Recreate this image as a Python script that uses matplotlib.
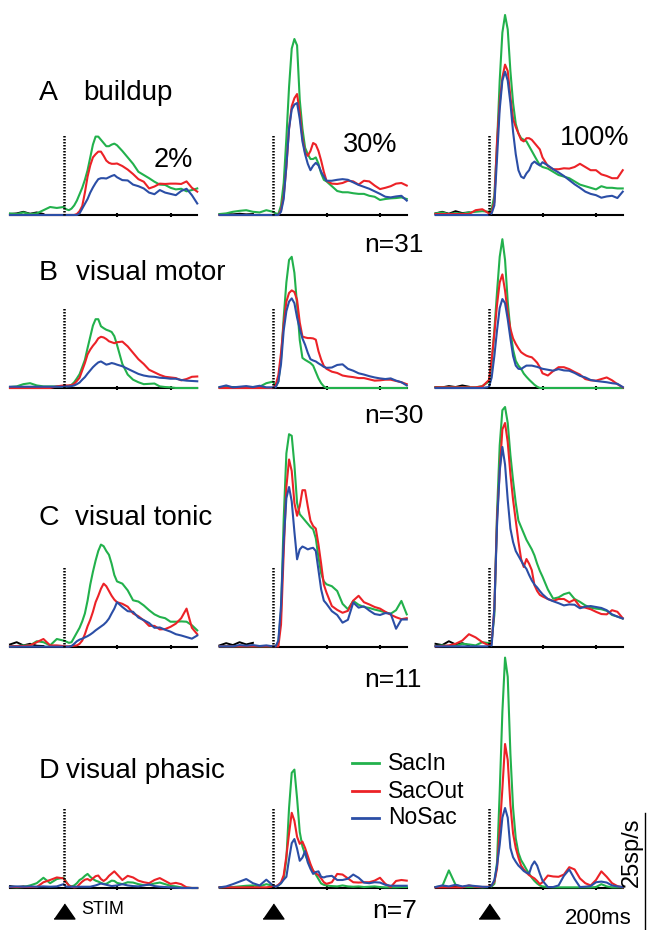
import matplotlib
matplotlib.use('Agg')
import matplotlib.pyplot as plt

plt.rcParams['font.family'] = ['Liberation Sans', 'DejaVu Sans']

# time axis (ms from stimulus onset)
t_ms = [-200, -175, -150, -125, -100, -75, -50, -25, 0,
        10, 20, 30, 40, 50, 60, 70, 80, 90, 100,
        110, 120, 130, 140, 150, 160, 170, 180, 190, 200,
        220, 240, 260, 280, 300, 320, 340, 360, 380, 400,
        420, 440, 460, 480, 500]
# pre-stimulus (fixation) segment, drawn in black
pre_t = [-200, -175, -150, -125, -100, -75]

# firing rates (sp/s) -- row A buildup
a1_sacin = [0.5, 0.3, 0.8, 0.3, 0.5, 1.5, 2.5, 2.2, 2.5,
            1.8, 1.5, 2.0, 3.0, 4.5, 6.5, 8.5, 11, 14, 18, 22, 24.5, 24.5, 23.5, 22.5, 21.5, 21.5, 22, 22.3, 21.8,
            20, 18, 16, 13.5, 12.5, 11.5, 10.4, 9.5, 9.4, 8.5, 8, 8.2, 7.4, 7.8, 8.3]
a1_sacout = [0, 0, 0, 0, 0, 0, 0, 0, 0,
             0, 0, 0, 0, 0.3, 1.2, 2.8, 7, 12, 15.5, 18, 19, 19.8, 19.8, 18.5, 17, 16.3, 16, 16, 16.1,
             15.3, 14.2, 12.8, 11.2, 10.4, 8.3, 8.9, 9.8, 9.7, 9.8, 9.8, 9.7, 10.5, 8.5, 7.3]
a1_nosac = [0, 0, 0, 0, 0, 0, 0, 0, 0,
            0, 0, 0, 0, 0, 0.5, 2, 3.5, 5, 7, 8.6, 10, 11.2, 11.5, 11.5, 11.4, 11.8, 12.2, 12.5, 11.8,
            10.9, 10.8, 9.5, 9, 8.3, 7, 6.5, 7.8, 7, 6.6, 6.2, 7.5, 8.2, 6.2, 3.6]
a1_fix = [0.3, 0.5, 1.0, 0.4, 0.8, 0.3]
a2_sacin = [0.3, 0.5, 1.0, 1.3, 1.5, 1.0, 0.8, 1.5, 1.0,
            0.5, 0.3, 3, 10, 24, 40, 52, 55, 53, 36, 27, 21, 19, 17.5, 17.5, 18, 16, 13, 11, 10.5,
            9, 7.5, 7.1, 7.1, 6.8, 6.6, 6.6, 6, 5.7, 4.7, 5, 5.2, 5.3, 5.5, 5]
a2_sacout = [0, 0, 0, 0, 0, 0, 0, 0, 0,
             0, 0, 1.5, 6, 15, 27, 34, 36.5, 37.8, 32, 24, 19.5, 18.5, 20, 22.5, 22, 20, 17, 13.5, 10.7,
             9.8, 9.7, 10, 10.7, 10.5, 9.5, 10.7, 10.5, 9.2, 8.1, 8.5, 9, 9.8, 10, 9.2]
a2_nosac = [0, 0, 0, 0, 0, 0, 0, 0, 0,
            0, 0, 1, 5, 15.4, 27, 33, 34.5, 35, 30, 23, 19, 16, 14, 15.4, 16.3, 15.5, 13.5, 12, 10.7,
            10.7, 11, 11.2, 11, 10.2, 9.4, 8.8, 8.2, 7.4, 6.6, 5.7, 5.5, 5.8, 6, 4.5]
a2_fix = [0.2, 0.3, 0.2, 0.4, 0.2, 0.3]
a3_sacin = [0.5, 0.8, 0.3, 0.6, 0.4, 0.8, 1.0, 1.2, 1.0,
            2, 6, 22, 42, 57, 62.5, 58, 45, 35, 28.5, 25.5, 24, 23.5, 23, 21.5, 20, 18.5, 17, 15.6, 15,
            14.5, 13.5, 12.5, 12, 11.5, 10.5, 9.5, 9, 8.5, 8, 9, 8.5, 8.5, 8.3, 8.3]
a3_sacout = [0.3, 0.3, 0.3, 0.3, 0.3, 0.3, 1.5, 1.8, 0.5,
             1, 4, 23, 35, 43, 47, 45, 37, 30, 27.5, 25.5, 23.5, 23, 24, 24, 23.5, 22.5, 21.5, 20.5, 18,
             15.3, 14.3, 14.3, 14.6, 14.5, 15, 16, 15, 14, 14, 12.7, 12.2, 11.5, 11.5, 14]
a3_nosac = [0, 0, 0, 0, 0, 0, 0, 0, 0,
            0.5, 3, 17.7, 33, 42, 44.8, 42, 35, 26, 19, 14, 12, 11.5, 13, 14, 16, 16.7, 16, 15.5, 16.5,
            15.5, 14.3, 13.3, 12.2, 10.9, 9.6, 8.5, 7.3, 6.6, 6.2, 5.4, 5.8, 6, 5.3, 7.3]
a3_fix = [0.5, 1.0, 0.4, 1.2, 0.6, 0.8]

# row B visual motor
b1_sacin = [0.3, 0.5, 1.2, 1.5, 0.8, 0.5, 0.5, 0.5, 0.5,
            0.5, 0.7, 1, 1.8, 3, 4.3, 6.5, 8.8, 12.5, 16, 19.5, 21.5, 21.5, 19.3, 18.7, 18.2, 17.9, 17.5, 16.2, 13.5,
            7.5, 4.2, 2.6, 1.8, 1.2, 1.3, 1.4, 0.5, 0.3, 0.2, 0, 0, 0, 0, 0]
b1_sacout = [0, 0, 0, 0, 0, 0, 0, 0.5, 0.8,
             0.8, 0.8, 0.9, 1.3, 2.2, 3.2, 5.5, 7.8, 10.5, 12, 13.2, 14.2, 15.5, 16, 15.8, 15.3, 14.6, 14.3, 14, 14.3,
             14.5, 13, 11, 9, 7.5, 5.7, 4.9, 4.1, 3.5, 3.3, 3.1, 2.4, 2.8, 3.5, 3.6]
b1_nosac = [0.4, 0.4, 0.4, 0.4, 0.4, 0.4, 0.4, 0.4, 0.4,
            0.5, 0.5, 0.6, 0.8, 1.2, 1.7, 2.6, 3.4, 4.5, 5.5, 6.5, 7.3, 8, 8.3, 7.8, 7.3, 7.5, 7.8, 7.6, 7.3,
            6.8, 6, 5.2, 4.4, 3.9, 3.6, 3.5, 3.2, 3.1, 2.9, 2.9, 2.5, 2.3, 2.2, 2.1]
b1_fix = [0.2, 0.2, 0.3, 0.2, 0.2, 0.2]
b2_sacin = [0.2, 0.3, 0.2, 0.3, 0.2, 0.3, 0.4, 1.5, 2.0,
            0.5, 2, 9, 22, 33, 40, 41, 36, 26, 15, 9.4, 8.8, 8.3, 7.8, 7, 5, 3, 1.5, 0.5, 0,
            0, 0, 0, 0, 0, 0, 0, 0, 0, 0, 0, 0, 0, 0, 0]
b2_sacout = [0, 0, 0, 0, 0, 0, 0, 0, 0,
             1, 4, 11, 20, 27, 29.7, 30.5, 30, 27.5, 20.5, 16.1, 15.8, 15.6, 15.6, 15.5, 15.1, 11.5, 8.9, 6.9, 6,
             5.1, 4.7, 3.9, 3.6, 3.4, 3.1, 3.1, 2.7, 2.3, 2.4, 2.6, 2.6, 2.2, 1.8, 1.2]
b2_nosac = [0.3, 0.8, 0.2, 0.4, 0.6, 0.3, 0.7, 0.2, 0.2,
            0.2, 2, 7.5, 18, 24, 27, 28, 26.5, 22, 18.5, 15.5, 13.5, 11, 9, 8.6, 8.3, 7.7, 7.2, 6.6, 6.3,
            6.4, 7.2, 7.4, 6, 5.4, 4.6, 4.2, 3.7, 3.3, 3, 2.8, 3, 2.3, 1.8, 0.8]
b2_fix = [0.2, 0.2, 0.2, 0.2, 0.2, 0.2]
b3_sacin = [0.2, 0.2, 0.2, 0.2, 0.2, 0.2, 0.2, 0.6, 2,
            7.5, 18, 30, 41, 46.5, 40, 27, 18, 12, 8.5, 7, 6, 4.5, 3.5, 2.6, 1.8, 1, 0.4, 0, 0,
            0, 0, 0, 0, 0, 0, 0, 0, 0, 0, 0, 0, 0, 0, 0]
b3_sacout = [0.2, 0.2, 0.2, 0.2, 0.2, 0.2, 0.2, 0.5, 2.5,
             9, 17, 26, 33, 35.5, 30.4, 23.5, 18.5, 15.5, 13.8, 12.4, 11.2, 10.6, 10.1, 9.8, 9.6, 8.8, 7.9, 6.5, 4.6,
             3.9, 5.3, 6.5, 6.5, 5.9, 5, 4.2, 2.8, 2.4, 2.3, 2.8, 3.3, 2.4, 1.2, 0.2]
b3_nosac = [0, 0, 0, 0, 0, 0, 0, 0, 0.3,
            3.3, 10, 18, 25, 27.8, 26.5, 21.5, 15.5, 10, 7, 6, 5.9, 6.5, 7, 7, 7, 6.8, 6.6, 6.3, 6,
            5.7, 5.4, 5.9, 5.5, 5.4, 4.7, 3.8, 3.3, 2.5, 2.2, 2, 1.8, 1.5, 1.3, 0.3]
b3_fix = [0.3, 0.2, 0.6, 0.3, 0.8, 0.4]

# row C visual tonic
c1_sacin = [0.2, 0.3, 0.5, 0.5, 1.8, 1.5, 0.5, 2.5, 2,
            1.7, 1.3, 1.5, 3, 4.5, 6, 8, 10.5, 14.5, 19.5, 23.5, 27, 30, 32, 31.5, 30, 28.8, 26, 22.5, 20.5,
            19.8, 17.7, 14.6, 14.2, 13, 11.5, 10.2, 9.4, 9, 7.9, 7.9, 8, 7.9, 6.8, 5.2]
c1_sacout = [0.2, 0.3, 0.3, 0.5, 1.5, 2.5, 0.5, 0.5, 0.3,
             0.2, 0.2, 0.3, 0.4, 0.5, 1, 2, 4, 6.5, 8.5, 11, 14, 16, 18.2, 19.8, 19, 17.5, 16, 14.8, 14,
             13.5, 12.6, 10.5, 9.6, 8.3, 6.6, 6.6, 5.5, 5.6, 6.3, 7.3, 9, 12, 6, 4]
c1_nosac = [0.1, 0.1, 0.1, 0.1, 0.1, 0.1, 0.1, 0.1, 0.1,
            0.1, 0.1, 0.3, 1, 1.8, 2.3, 2.6, 3, 3.4, 3.9, 4.5, 5.2, 5.8, 6.4, 7, 7.8, 8.9, 10.5, 12, 14,
            12.5, 11.2, 11, 9.2, 8.4, 7.5, 6, 6.1, 5.4, 4.8, 4, 3.6, 3.1, 2.6, 3.6]
c1_fix = [0.8, 1.5, 0.5, 1.0, 0.4, 0.3]
c2_sacin = [0.2, 0.2, 0.2, 0.2, 0.2, 0.2, 0.2, 0.2, 0.2,
            0.3, 1.5, 11, 40, 60.5, 66.5, 66, 57, 45, 41.5, 40.5, 39.5, 38.5, 37.5, 36.8, 34, 28, 23, 20.5, 19.6,
            19, 17.5, 13.5, 11.8, 14.4, 13.2, 12.5, 12.2, 11.7, 11.3, 10.8, 10.4, 11.5, 14.4, 10.2]
c2_sacout = [0.2, 0.2, 0.2, 0.2, 0.2, 0.2, 0.2, 0.2, 0.2,
             0.2, 0.2, 7, 29.5, 50, 58.6, 55, 45, 41, 44, 49, 49, 44, 39.5, 37.8, 37, 32, 26, 19.5, 17,
             12.8, 11.6, 10.7, 11.3, 14.5, 16, 14, 13.3, 12.5, 12, 11, 10.1, 9.3, 8.7, 9]
c2_nosac = [0.2, 0.2, 0.2, 0.6, 0.4, 0.6, 0.3, 0.5, 0.2,
            0.2, 2, 13, 33, 46.5, 50, 45.5, 36, 27.4, 30.5, 31.4, 31, 30.5, 30.8, 31, 30, 24, 18, 14.5, 13.5,
            11.2, 10, 7.6, 8.5, 13.9, 12.3, 12.7, 11.4, 10.3, 10, 10.6, 10.4, 5.7, 8.6, 8.6]
c2_fix = [0.5, 1.2, 0.6, 1.5, 0.8, 1.3]
c3_sacin = [0.3, 0.5, 0.3, 0.3, 1, 0.8, 0.5, 1.5, 1.2,
            2, 10, 42, 63, 74, 75, 70, 60, 52, 45, 39.5, 37.5, 35.5, 33.5, 32, 30.5, 28.6, 26, 23.8, 22,
            18, 15.1, 15.5, 16.5, 17, 15, 14.1, 13, 12.3, 12, 11.8, 11.3, 10, 9.5, 8.9]
c3_sacout = [0.2, 0.3, 0.5, 1, 2, 4, 3, 1.5, 0.5,
             1.5, 12, 40, 55, 68, 70, 64, 54, 46, 39.5, 33, 27.5, 25, 27.5, 26, 24, 19.3, 17.5, 16.3, 15.8,
             15, 14.4, 15, 15, 14, 14.8, 12.6, 12.3, 11.8, 11, 10.3, 10.2, 11.5, 11, 9]
c3_nosac = [0.2, 0.2, 0.2, 0.2, 0.2, 0.2, 0.2, 0.2, 0.2,
            0.5, 12, 38, 55, 62.5, 57, 46, 37, 32.8, 30, 28.5, 27, 25.5, 24.4, 22.5, 20.8, 19.5, 18.6, 17.5, 16.5,
            15, 14.3, 13.7, 13, 13.3, 13.2, 12.1, 12.6, 12.8, 12.5, 12.2, 11.5, 10.2, 9.5, 8.9]
c3_fix = [1.0, 0.6, 1.8, 0.8, 1.2, 0.5]

# row D visual phasic
d1_sacin = [0.3, 0.2, 0.3, 0.8, 1.5, 3.2, 1.5, 2.8, 3.2,
            2, 0.8, 0.5, 0.8, 1.5, 2.5, 3, 3.8, 4.4, 3.5, 2.8, 2.3, 2, 1.6, 1.3, 1.3, 1.8, 2.3, 2.2, 1.6,
            1.2, 1.8, 1.7, 1.2, 0.9, 1, 1.4, 1.7, 1.2, 0.7, 0.5, 0.2, 0.1, 0, 0]
d1_sacout = [0.3, 0.3, 0.3, 0.3, 0.3, 1.8, 2.5, 3.3, 3,
             1.8, 0.8, 0.4, 0.2, 0.3, 1.2, 2, 2.6, 2.8, 2.3, 3, 3.7, 3.9, 2.8, 2.2, 2.8, 3.8, 4.5, 5.2, 4.3,
             2.5, 3.8, 3.3, 2.3, 1.8, 1.5, 2.5, 3.1, 2.2, 1.3, 1.6, 1.2, 0.2, 0, 0]
d1_nosac = [0.4, 0.5, 0.4, 0.5, 0.4, 0.5, 0.4, 0.5, 1.2,
            0.4, 0.4, 0.4, 0.4, 0.4, 0.4, 0.4, 0.4, 0.4, 0.4, 0.6, 0.8, 1.1, 1.4, 1.2, 1, 0.8, 0.6, 0.7, 0.8,
            1.2, 0.8, 0.6, 0.5, 0.8, 1.1, 0.6, 0.4, 0.3, 0.2, 0.1, 0, 0, 0, 0]
d1_fix = [0.6, 0.3, 0.5, 0.2, 0.3, 0.2]
d2_sacin = [0.2, 0.3, 0.3, 0.5, 0.7, 0.8, 0.5, 1.2, 0.7,
            0.5, 0.8, 1.5, 3, 9, 25, 36, 37, 28, 17.5, 13, 10.5, 8.5, 7, 5.4, 4.2, 2.8, 1.4, 1, 0.8,
            0.6, 0.5, 0.8, 0.5, 0.4, 0.5, 0.3, 0.4, 0.5, 0.3, 0.2, 0.2, 0.2, 0.3, 0.3]
d2_sacout = [0.2, 0.2, 0.2, 0.2, 0.2, 0.2, 0.2, 0.2, 0.5,
             0.5, 1, 1.8, 4, 10, 17, 23.5, 21, 16, 13.8, 14.5, 12.5, 10, 7.5, 5.4, 4.6, 4, 3, 1.8, 1.3,
             1.8, 4.4, 4.2, 3, 1.8, 1.7, 1.8, 1.8, 2.3, 3.2, 1.3, 0.3, 2.2, 2.5, 2.3]
d2_nosac = [0.2, 0.5, 1.2, 2, 2.8, 1.5, 0.8, 2.6, 0.8,
            0.4, 0.8, 1.5, 2.6, 3.5, 9, 14, 15.3, 12.3, 8.5, 9.5, 11.5, 8, 6, 4.4, 5, 5.2, 3.5, 3.3, 3.6,
            3.8, 2.5, 2.5, 2.9, 4.2, 3.2, 1.7, 1.5, 1.8, 1.7, 1, 0.7, 0.7, 0.7, 0.7]
d2_fix = [0.2, 0.2, 0.2, 0.2, 0.2, 0.2]
d3_sacin = [0.3, 0.5, 5.5, 1, 0.3, 0.3, 0.3, 0.2, 0.3,
            0.5, 1.3, 8, 30, 55, 72, 66, 42, 25, 15.5, 11, 8.7, 7.3, 5.8, 4.5, 3.2, 2.2, 1.4, 0.8, 0.5,
            0.3, 0.2, 0.2, 0.2, 0.2, 0.2, 0.2, 0.2, 0.2, 0.3, 1.2, 0.5, 0.2, 0.2, 0.2]
d3_sacout = [0.2, 0.2, 0.2, 0.2, 0.2, 0.8, 0.4, 0.3, 0.4,
             0.8, 2, 6, 18, 31, 45, 40, 26, 17, 12.5, 9.5, 7, 5.8, 4.8, 4, 3.5, 3, 2.2, 1.2, 1.8,
             3.9, 3.6, 3.5, 4.2, 6.5, 5.8, 3, 1.5, 0.8, 2.5, 5.2, 3.5, 1.5, 0.6, 0.2]
d3_nosac = [0.3, 0.8, 0.5, 1, 0.5, 0.8, 0.6, 0.4, 0.3,
            0.8, 2.5, 7, 13.5, 22, 25, 22, 12.5, 9.6, 8.2, 7, 6.2, 5.3, 4.8, 4.5, 7, 8.3, 7, 4.5, 2.3,
            0.3, 0.3, 0.8, 3.8, 5.8, 2.8, 0.3, 0.4, 0.6, 1.8, 2, 1.7, 0.8, 0.5, 0.3]
d3_fix = [0.2, 0.3, 0.2, 0.4, 0.2, 0.2]

conditions = ['SacIn', 'SacOut', 'NoSac']
colors = ['#22b14c', '#ec2227', '#2b4ea6']
row_labels = [('A', 'buildup'), ('B', 'visual motor'), ('C', 'visual tonic'), ('D', 'visual phasic')]
coherence = ['2%', '30%', '100%']
n_cells = ['n=31', 'n=30', 'n=11', 'n=7']

panels = [
    [(a1_sacin, a1_sacout, a1_nosac, a1_fix), (a2_sacin, a2_sacout, a2_nosac, a2_fix),
     (a3_sacin, a3_sacout, a3_nosac, a3_fix)],
    [(b1_sacin, b1_sacout, b1_nosac, b1_fix), (b2_sacin, b2_sacout, b2_nosac, b2_fix),
     (b3_sacin, b3_sacout, b3_nosac, b3_fix)],
    [(c1_sacin, c1_sacout, c1_nosac, c1_fix), (c2_sacin, c2_sacout, c2_nosac, c2_fix),
     (c3_sacin, c3_sacout, c3_nosac, c3_fix)],
    [(d1_sacin, d1_sacout, d1_nosac, d1_fix), (d2_sacin, d2_sacout, d2_nosac, d2_fix),
     (d3_sacin, d3_sacout, d3_nosac, d3_fix)],
]

# layout (pixels)
W, H = 649, 930
PX_PER_SPS = 3.2          # 25 sp/s ~ 80 px
PX_PER_MS = 187.25 / 700
stim_x = [63.5, 273, 489]     # x of stimulus onset in each column
base_y = [215, 388, 647, 888]  # y of baseline in each row
pad_below, pad_above = 10, 250

fig = plt.figure(figsize=(W / 100, H / 100), dpi=100)


def fx(x):
    return x / W


def fy(y):
    return 1 - y / H


for r, row in enumerate(panels):
    for c, traces in enumerate(row):
        left = stim_x[c] - 200 * PX_PER_MS
        ax = fig.add_axes([fx(left), fy(base_y[r] + pad_below),
                           700 * PX_PER_MS / W, (pad_below + pad_above) / H])
        ax.patch.set_alpha(0)
        ax.plot(pre_t, traces[3], color='k', lw=1.4, clip_on=False)
        for vals, col in zip(traces[:3], colors):
            ax.plot(t_ms, vals, color=col, lw=1.5, solid_joinstyle='round', clip_on=False)
        # stimulus onset marker
        ax.plot([0, 0], [0, 25], color='k', lw=1.8, linestyle=(0, (0.6, 0.6)))
        ax.set_xlim(-200, 500)
        ax.set_ylim(-pad_below / PX_PER_SPS, pad_above / PX_PER_SPS)
        for s in ['left', 'right', 'top']:
            ax.spines[s].set_visible(False)
        ax.spines['bottom'].set_position(('data', 0))
        ax.spines['bottom'].set_linewidth(1.5)
        ax.spines['bottom'].set_zorder(1)
        ax.set_yticks([])
        ax.set_xticks([200, 400])
        ax.set_xticklabels([])
        ax.tick_params(axis='x', length=3, width=1.5, direction='inout')
        if r == 3:
            ax.plot([0], [-23 / PX_PER_SPS], marker=[(-1, -0.72), (1, -0.72), (0, 0.72)],
                    ms=15, color='k', clip_on=False)

# row labels
label_base = [100, 280, 525, 778]
name_x = [83, 76, 75, 66]
for (letter, name), yb, nx in zip(row_labels, label_base, name_x):
    fig.text(fx(39), fy(yb), letter, fontsize=20.5, va='baseline', ha='left')
    fig.text(fx(nx), fy(yb), name, fontsize=20, va='baseline', ha='left')

# coherence labels
fig.text(fx(154), fy(167), coherence[0], fontsize=19.5, va='baseline')
fig.text(fx(343), fy(152), coherence[1], fontsize=19.5, va='baseline')
fig.text(fx(560), fy(145), coherence[2], fontsize=19.5, va='baseline')

# cell counts
for txt, yb in zip(n_cells, [252, 423, 687, 918]):
    fig.text(fx(364 if txt != 'n=7' else 372), fy(yb), txt, fontsize=19, va='baseline')

# legend
for name, col, yl in zip(conditions, colors, [763, 791, 818]):
    fig.add_artist(plt.Line2D([fx(352), fx(379)], [fy(yl), fy(yl)], color=col, lw=2))
    fig.text(fx(388), fy(yl), name, fontsize=16.5, va='center')

# stimulus label and scale bars
fig.text(fx(81), fy(909), 'STIM', fontsize=13, va='center')
fig.text(fx(565), fy(918), '200ms', fontsize=16, va='center')
fig.text(fx(632), fy(852), '25sp/s', fontsize=17, va='center', ha='center', rotation=90)
fig.add_artist(plt.Line2D([fx(645), fx(645)], [fy(813), fy(930)], color='k', lw=1))

fig.savefig('out.png', dpi=100)
